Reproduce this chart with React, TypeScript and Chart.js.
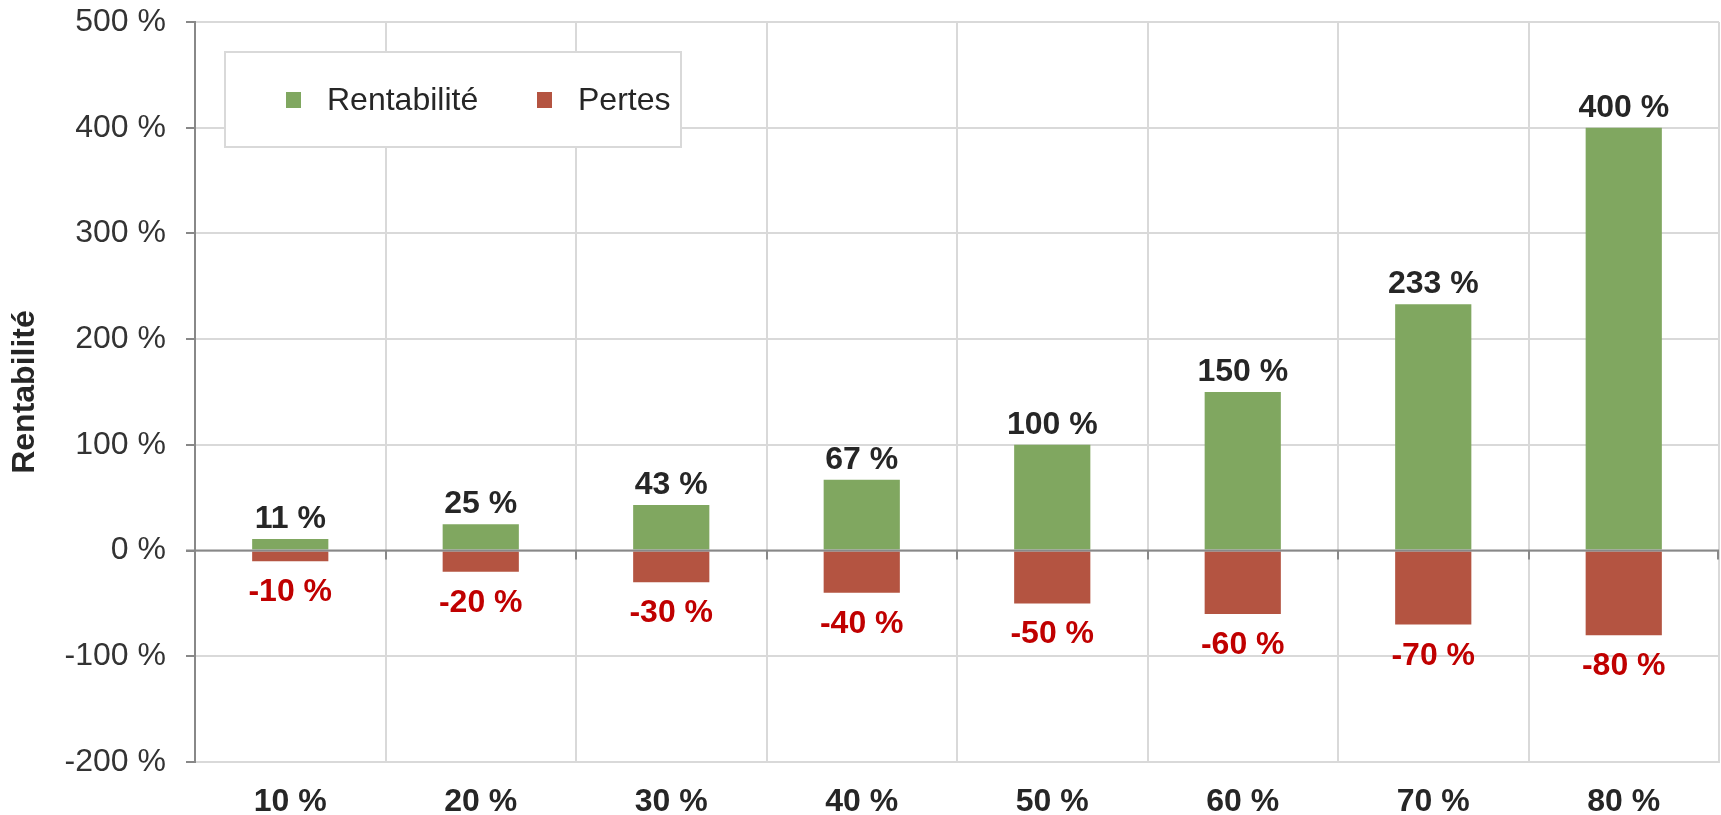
import React, { useEffect, useRef } from 'react';
import { Chart, registerables } from 'chart.js';

Chart.register(...registerables);

const categories: string[] = ['10 %', '20 %', '30 %', '40 %', '50 %', '60 %', '70 %', '80 %'];
const profitability: number[] = [11, 25, 43, 67, 100, 150, 233, 400];
const losses: number[] = [-10, -20, -30, -40, -50, -60, -70, -80];
const seriesNames: string[] = ['Rentabilité', 'Pertes'];
const yMin = -200;
const yMax = 500;
const yStep = 100;
const yTitle = 'Rentabilité';

const GREEN = '#80A760';
const RED = '#B45441';
const FONT = '"Liberation Sans", Arial, sans-serif';

const overlayPlugin = {
  id: 'overlay',
  beforeDatasetsDraw(chart: any) {
    const ctx = chart.ctx;
    const area = chart.chartArea;
    const bx = area.left + 30;
    const by = area.top + 30;
    const bw = 456;
    const bh = 95;
    ctx.save();
    ctx.fillStyle = '#ffffff';
    ctx.fillRect(bx, by, bw, bh);
    ctx.strokeStyle = '#d9d9d9';
    ctx.lineWidth = 2;
    ctx.strokeRect(bx, by, bw, bh);
    ctx.font = `32px ${FONT}`;
    ctx.textBaseline = 'middle';
    ctx.textAlign = 'left';
    const cy = by + 48;
    const offsets = [61, 312];
    chart.data.datasets.forEach((ds: any, i: number) => {
      const x = bx + offsets[i];
      ctx.fillStyle = ds.backgroundColor;
      ctx.fillRect(x, cy - 8, 15, 16);
      ctx.fillStyle = '#262626';
      ctx.fillText(ds.label, x + 41, cy + 1);
    });
    ctx.restore();
  },
  afterDatasetsDraw(chart: any) {
    const ctx = chart.ctx;
    const area = chart.chartArea;
    const ys = chart.scales.y;
    const y0 = ys.getPixelForValue(0);
    ctx.save();
    ctx.strokeStyle = '#888888';
    ctx.lineWidth = 2;
    ctx.beginPath();
    ctx.moveTo(area.left - 9, y0);
    ctx.lineTo(area.right, y0);
    const n = chart.data.labels.length;
    const w = (area.right - area.left) / n;
    for (let i = 1; i <= n; i++) {
      const x = Math.round(area.left + i * w) - (i === n ? 1 : 0);
      ctx.moveTo(x, y0);
      ctx.lineTo(x, y0 + 9);
    }
    ctx.stroke();

    ctx.font = `bold 32px ${FONT}`;
    ctx.textAlign = 'center';
    ctx.textBaseline = 'alphabetic';
    chart.data.datasets.forEach((ds: any, di: number) => {
      const meta = chart.getDatasetMeta(di);
      meta.data.forEach((bar: any, i: number) => {
        const v = ds.data[i];
        const txt = `${Math.round(v)} %`;
        if (v >= 0) {
          ctx.fillStyle = '#262626';
          ctx.fillText(txt, bar.x, bar.y - 11);
        } else {
          ctx.fillStyle = '#C00000';
          ctx.fillText(txt, bar.x, bar.y + 40);
        }
      });
    });
    ctx.restore();
  },
};

export default function App() {
  const canvasRef = useRef<HTMLCanvasElement | null>(null);

  useEffect(() => {
    document.body.style.margin = '0';
    document.body.style.overflow = 'hidden';
    const canvas = canvasRef.current;
    if (!canvas) return;
    const chart = new Chart(canvas, {
      type: 'bar',
      data: {
        labels: categories,
        datasets: [
          { label: seriesNames[0], data: profitability, backgroundColor: GREEN, borderWidth: 0 },
          { label: seriesNames[1], data: losses, backgroundColor: RED, borderWidth: 0 },
        ],
      },
      options: {
        responsive: false,
        animation: false,
        devicePixelRatio: 1,
        layout: { padding: { top: 22, right: 2, left: 0, bottom: 0 } },
        plugins: {
          legend: { display: false },
          tooltip: { enabled: false },
        },
        datasets: {
          bar: { barPercentage: 0.4, categoryPercentage: 1 },
        },
        scales: {
          x: {
            stacked: true,
            grid: { color: '#d9d9d9', lineWidth: 2, drawTicks: false, offset: true },
            border: { color: '#d9d9d9', width: 2 },
            ticks: {
              color: '#262626',
              padding: 21,
              font: { family: FONT, size: 32, weight: 'bold' },
            },
            afterFit(scale: any) {
              scale.height = 53;
              scale.paddingLeft = 0;
              scale.paddingRight = 0;
            },
          },
          y: {
            stacked: true,
            min: yMin,
            max: yMax,
            grid: { color: '#d9d9d9', lineWidth: 2, tickColor: '#888888', tickLength: 9 },
            border: { color: '#888888', width: 2 },
            ticks: {
              stepSize: yStep,
              color: '#333333',
              padding: 20,
              font: { family: FONT, size: 32 },
              callback: (v: any) => `${v} %`,
            },
            title: {
              display: true,
              text: yTitle,
              color: '#262626',
              font: { family: FONT, size: 32, weight: 'bold' },
              padding: { top: 6, bottom: 0 },
            },
            afterFit(scale: any) {
              scale.width = 195;
              scale.paddingTop = 0;
              scale.paddingBottom = 0;
            },
          },
        },
      },
      plugins: [overlayPlugin],
    } as any);
    return () => chart.destroy();
  }, []);

  return (
    <div style={{ width: 1721, height: 815, background: '#fff' }}>
      <canvas ref={canvasRef} width={1721} height={815} />
    </div>
  );
}
